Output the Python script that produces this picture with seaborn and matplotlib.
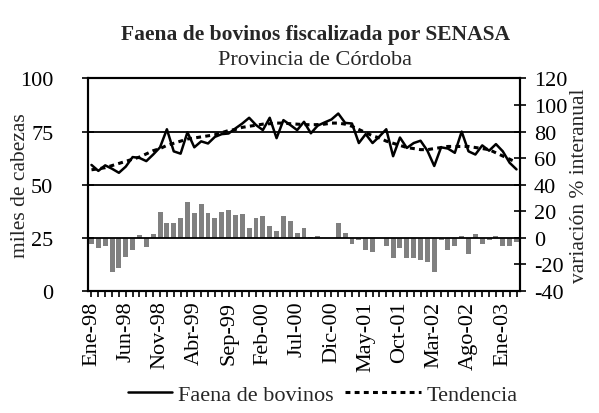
import matplotlib
matplotlib.use("Agg")
import matplotlib.pyplot as plt
import seaborn as sns
import pandas as pd
import numpy as np

# ====== datos (Ene-98 a Mar-03) ======
faena = [59.3, 56.5, 59.1, 57.5, 55.6, 58.5, 63.0, 62.6, 61.1, 64.2, 67.6, 76.1,
         65.7, 64.6, 74.7, 67.6, 70.4, 69.4, 72.5, 73.8, 74.1, 76.5, 78.8, 81.5,
         78.1, 75.7, 81.5, 71.9, 80.4, 78.1, 75.7, 79.6, 74.2, 77.8, 79.3, 80.7,
         83.5, 79.1, 78.8, 69.6, 73.8, 69.6, 72.7, 76.1, 63.4, 72.2, 67.3, 69.6,
         70.7, 66.0, 58.8, 67.6, 67.0, 65.0, 75.0, 65.7, 64.2, 68.5, 66.0, 69.1,
         65.7, 60.3, 57.2]

tendencia = [57.0, 57.5, 58.0, 59.0, 60.0, 61.0, 62.0, 63.0, 64.5, 66.0, 67.0, 68.5,
             69.5, 70.5, 71.5, 72.0, 72.5, 73.0, 73.5, 74.5, 75.5, 76.0, 77.0, 77.5,
             78.0, 78.5, 78.7, 79.0, 79.0, 78.7, 78.5, 78.3, 78.2, 78.3, 78.5, 79.0,
             79.0, 78.5, 77.5, 76.0, 74.5, 73.0, 72.0, 70.5, 69.5, 68.5, 67.5, 67.0,
             66.5, 66.5, 67.0, 67.5, 68.0, 68.0, 68.0, 68.0, 67.5, 67.0, 66.5, 65.0,
             63.5, 62.0, 60.5]

variacion = [-5.0, -8.0, -6.5, -26.0, -23.0, -14.3, -9.5, 2.0, -6.8, 3.0, 19.5, 10.8,
             10.8, 15.0, 27.0, 18.3, 25.8, 18.3, 15.0, 19.5, 21.0, 16.8, 18.0, 7.5,
             15.0, 16.5, 9.0, 5.0, 16.5, 12.5, 3.3, 7.5, 0.3, 1.5, 0.2, 0.2,
             10.8, 3.3, -5.0, -1.8, -9.3, -11.0, -0.3, -6.0, -15.5, -8.0, -15.5, -15.5,
             -16.8, -18.5, -26.0, -2.0, -9.3, -6.0, 1.5, -12.3, 3.0, -4.8, -1.8, 1.3,
             -6.0, -6.0, -3.0]

etiquetas = ["Ene-98", "Jun-98", "Nov-98", "Abr-99", "Sep-99", "Feb-00", "Jul-00",
             "Dic-00", "May-01", "Oct-01", "Mar-02", "Ago-02", "Ene-03"]

mes = np.arange(len(faena))
df = pd.DataFrame({"mes": mes, "faena": faena, "tendencia": tendencia,
                   "variacion": variacion})

# ====== estilo ======
sns.set_theme(style="white")
plt.rcParams['font.family'] = ['Liberation Serif', 'DejaVu Serif']
plt.rcParams['font.size'] = 16
plt.rcParams['axes.unicode_minus'] = False

fig = plt.figure(figsize=(5.99, 4.14), dpi=100)
ax = fig.add_axes([0.147, 0.295, 0.721, 0.513])
ax2 = ax.twinx()

# --- barras: variación interanual (eje derecho) ---
sns.barplot(data=df, x="mes", y="variacion", native_scale=True, color="#808080",
            saturation=1, width=0.72, linewidth=0, ax=ax2)

# --- líneas: faena y tendencia (eje izquierdo) ---
sns.lineplot(data=df, x="mes", y="faena", color="black", lw=1.8, ax=ax,
             label="Faena de bovinos")
sns.lineplot(data=df, x="mes", y="tendencia", color="black", lw=2.2,
             linestyle=(0, (1.6, 1.4)), ax=ax, label="Tendencia")

ax.set_zorder(ax2.get_zorder() + 1)
ax.patch.set_visible(False)

ax.set_ylim(0, 100)
ax.set_yticks([0, 25, 50, 75, 100])
ax2.set_ylim(-40, 120)
ax2.set_yticks(range(-40, 121, 20))
ax.set_xlim(-0.5, len(mes) - 0.5)

ax.set_xticks(mes[::5])
ax.set_xticklabels(etiquetas, rotation=90)
ax.set_xticks(mes, minor=True)
ax2.set_xlabel("")
ax.set_xlabel("")

ax.set_ylabel("miles de cabezas", fontsize=15.5)
ax2.set_ylabel("variación % interanual", fontsize=15.5)
ax.yaxis.set_label_coords(-0.134, 0.5)
ax2.yaxis.set_label_coords(1.116, 0.5)

# gridlines
for v in [25, 50, 75]:
    ax.axhline(v, color="black", lw=1.3, zorder=0)

for a in (ax, ax2):
    for s in a.spines.values():
        s.set_color("black")
        s.set_linewidth(1.5)

ax.tick_params(axis="x", which="both", direction="out", length=4, width=1.2,
               colors="black", labelsize=16, bottom=True, pad=3)
ax.tick_params(axis="y", direction="inout", length=8, width=1.2, colors="black",
               labelsize=16, left=True, pad=21)
ax2.tick_params(axis="y", direction="inout", length=8, width=1.2, colors="black",
                labelsize=16, right=True, pad=6)

ax.get_legend().remove()
h, l = ax.get_legend_handles_labels()
fig.legend([h[0]], [l[0]], loc="center", frameon=False, fontsize=16,
           bbox_to_anchor=(0.385, 0.045), handlelength=2.0, handletextpad=0.25)
fig.legend([h[1]], [l[1]], loc="center", frameon=False, fontsize=16,
           bbox_to_anchor=(0.72, 0.045), handlelength=3.4, handletextpad=0.25)

fig.text(0.526, 0.915, "Faena de bovinos fiscalizada por SENASA", ha="center",
         va="center", fontsize=15.5, fontweight="bold")
fig.text(0.526, 0.855, "Provincia de Córdoba", ha="center", va="center",
         fontsize=16)

fig.savefig("out.png", dpi=100)
